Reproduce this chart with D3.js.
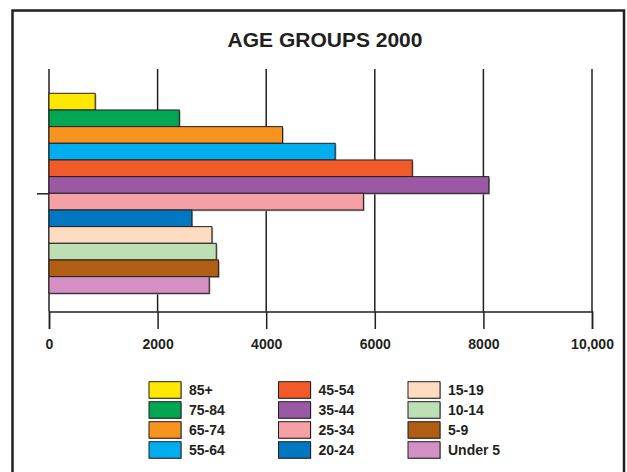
<!DOCTYPE html>
<html>
<head>
<meta charset="utf-8">
<script src="https://cdn.jsdelivr.net/npm/d3@7"></script>
<style>
  html, body { margin: 0; padding: 0; background: #fff; }
  svg { display: block; font-family: "Liberation Sans", Arial, sans-serif; }
</style>
</head>
<body>
<svg id="chart" width="627" height="472"></svg>
<script>
const categories = ["85+", "75-84", "65-74", "55-64", "45-54", "35-44", "25-34", "20-24", "15-19", "10-14", "5-9", "Under 5"];
const values = [850, 2400, 4300, 5270, 6690, 8100, 5790, 2630, 3000, 3080, 3120, 2950];
const colors = ["#FFE800", "#00A651", "#F7941D", "#00AEEF", "#F15A29", "#9B59A3", "#F5A0A5", "#0077C0", "#FDDCC2", "#BEDFB3", "#B05E14", "#D48FC4"];
const xTicks = [0, 2000, 4000, 6000, 8000, 10000];
const xTickLabels = ["0", "2000", "4000", "6000", "8000", "10,000"];
const title = "AGE GROUPS 2000";

const svg = d3.select("#chart");
const ink = "#231f20";

// frame
svg.append("rect")
  .attr("x", 12.5).attr("y", 10.5)
  .attr("width", 611.5).attr("height", 480)
  .attr("fill", "none").attr("stroke", ink).attr("stroke-width", 2.5);

// title
svg.append("text")
  .attr("x", 325).attr("y", 47)
  .attr("text-anchor", "middle")
  .attr("font-size", 21).attr("font-weight", "bold")
  .attr("fill", ink)
  .text(title);

const x = d3.scaleLinear().domain([0, 10000]).range([49, 592]);
const y = d3.scaleBand().domain(categories).range([93.3, 293.3]).padding(0);

const gridTop = 69, axisY = 311.5, gridBottom = 329;

// grid lines
svg.append("g").selectAll("line")
  .data(xTicks)
  .join("line")
  .attr("x1", d => x(d)).attr("x2", d => x(d))
  .attr("y1", gridTop).attr("y2", axisY)
  .attr("stroke", ink).attr("stroke-width", 1.5);

// bar shadows
svg.append("g").selectAll("rect")
  .data(categories)
  .join("rect")
  .attr("x", x(0) + 1.2)
  .attr("y", d => y(d) + 1.2)
  .attr("width", (d, i) => x(values[i]) - x(0))
  .attr("height", y.bandwidth())
  .attr("fill", "#9a9a9a");

// bars
svg.append("g").selectAll("rect")
  .data(categories)
  .join("rect")
  .attr("x", x(0))
  .attr("y", d => y(d))
  .attr("width", (d, i) => x(values[i]) - x(0))
  .attr("height", y.bandwidth())
  .attr("fill", (d, i) => colors[i])
  .attr("stroke", ink).attr("stroke-width", 1);

// x axis
const xAxis = d3.axisBottom(x)
  .tickValues(xTicks)
  .tickFormat((d, i) => xTickLabels[i])
  .tickSizeOuter(0)
  .tickSize(gridBottom - axisY)
  .tickPadding(10);
const gx = svg.append("g").attr("transform", `translate(0,${axisY})`).call(xAxis);
gx.select(".domain").attr("stroke", ink).attr("stroke-width", 1.5);
gx.selectAll(".tick line").attr("stroke", ink).attr("stroke-width", 1.5);
gx.selectAll(".tick text")
  .attr("fill", ink)
  .attr("font-size", 14).attr("font-weight", "bold")
  .attr("font-family", "Liberation Sans, Arial, sans-serif");

// y axis: single tick at the centre of the bars
const yMid = d3.scaleLinear().domain([0, categories.length]).range([93.3, 293.3]);
const yAxis = d3.axisLeft(yMid).tickValues([categories.length / 2]).tickFormat("").tickSize(12);
const gy = svg.append("g").attr("transform", `translate(${x(0)},0)`).call(yAxis);
gy.select(".domain").remove();
gy.selectAll(".tick line").attr("stroke", ink).attr("stroke-width", 1.5);

// legend
const colX = [149, 278.5, 408];
const rowY = [381.7, 401.7, 421.7, 441.7];
const leg = svg.append("g").selectAll("g")
  .data(categories)
  .join("g")
  .attr("transform", (d, i) => `translate(${colX[Math.floor(i / 4)]},${rowY[i % 4]})`);
leg.append("rect")
  .attr("x", 0.8).attr("y", 0.8)
  .attr("width", 32).attr("height", 16.5)
  .attr("fill", "#9a9a9a");
leg.append("rect")
  .attr("width", 32).attr("height", 16.5)
  .attr("fill", (d, i) => colors[i])
  .attr("stroke", ink).attr("stroke-width", 1);
leg.append("text")
  .attr("x", 40).attr("y", 13.5)
  .attr("font-size", 14).attr("font-weight", "bold")
  .attr("fill", ink)
  .text(d => d);
</script>
</body>
</html>
